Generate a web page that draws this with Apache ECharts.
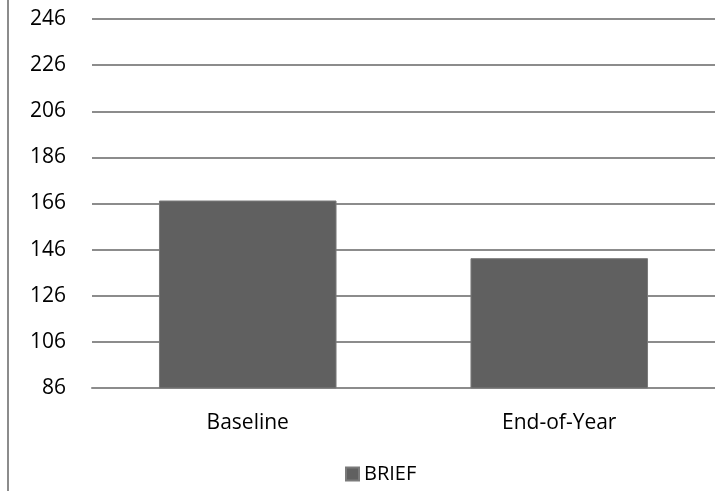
<!DOCTYPE html>
<html>
<head>
<meta charset="utf-8">
<script src="https://cdn.jsdelivr.net/npm/echarts@6/dist/echarts.min.js"></script>
<style>
  html, body { margin: 0; padding: 0; background: #fff; }
  #chart { width: 715px; height: 491px; }
</style>
</head>
<body>
<div id="chart"></div>
<script>
// BRIEF scores at the start and end of the year
const categories = ['Baseline', 'End-of-Year'];
const briefValues = [167.3, 142.3];
const seriesName = 'BRIEF';
const yMin = 86, yMax = 246, yStep = 20;

const FONT = 'Open Sans';
const chart = echarts.init(document.getElementById('chart'));
chart.setOption({
  animation: false,
  backgroundColor: '#ffffff',
  textStyle: { fontFamily: FONT },
  grid: { left: 92, right: -5, top: 19, bottom: 103, containLabel: false },
  legend: {
    data: [seriesName],
    bottom: 2,
    left: 340,
    itemWidth: 13,
    itemHeight: 13,
    icon: 'rect',
    itemGap: 5,
    textStyle: { fontFamily: FONT, fontSize: 20, color: '#000', padding: [0, 0, 0, 0] }
  },
  xAxis: {
    type: 'category',
    data: categories,
    axisLine: { show: true, lineStyle: { color: '#8c8c8c', width: 2 } },
    axisTick: { show: false },
    axisLabel: { fontFamily: FONT, fontSize: 21, color: '#000', margin: 25 }
  },
  yAxis: {
    type: 'value',
    min: yMin,
    max: yMax,
    interval: yStep,
    axisLine: { show: false },
    axisTick: { show: false },
    splitLine: { lineStyle: { color: '#8c8c8c', width: 2 } },
    axisLabel: { fontFamily: FONT, fontSize: 21, color: '#000', margin: 26 }
  },
  series: [{
    name: seriesName,
    type: 'bar',
    data: briefValues,
    barWidth: '57%',
    itemStyle: { color: '#606060', borderColor: '#7a7a7a', borderWidth: 1 }
  }],
  graphic: [{
    type: 'line',
    shape: { x1: 8, y1: 0, x2: 8, y2: 491 },
    style: { stroke: '#8c8c8c', lineWidth: 2 }
  }]
});
</script>
</body>
</html>
